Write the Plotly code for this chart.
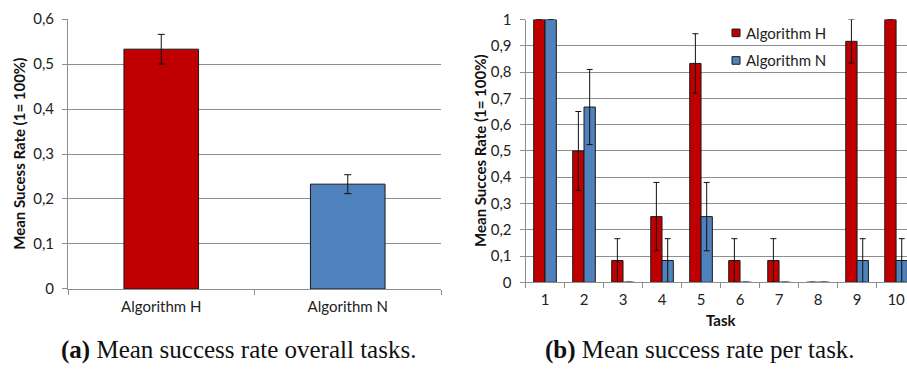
import plotly.graph_objects as go

# ---- data ----
overall_algorithms = ["Algorithm H", "Algorithm N"]
overall_mean = [0.533, 0.233]
overall_err = [0.033, 0.021]

tasks = ["1", "2", "3", "4", "5", "6", "7", "8", "9", "10"]
h_mean = [1.0, 0.5, 0.083, 0.25, 0.833, 0.083, 0.083, 0.0, 0.917, 1.0]
h_err = [0.0, 0.15, 0.083, 0.13, 0.113, 0.083, 0.083, 0.0, 0.083, 0.0]
n_mean = [1.0, 0.667, 0.0, 0.083, 0.25, 0.0, 0.0, 0.0, 0.083, 0.083]
n_err = [0.0, 0.143, 0.0, 0.083, 0.13, 0.0, 0.0, 0.0, 0.083, 0.083]

RED = "#C00000"
BLUE = "#4F81BD"
GRID = "#8E8E8E"
FONT = "Lato"
SERIF = "Liberation Serif"

W, H = 907, 376


def px_x(p):
    return p / W


def px_y(p):
    return 1 - p / H


def err_array(vals):
    # zero deviations get no whisker at all
    return [v if v > 0 else None for v in vals]


fig = go.Figure()

# (a) overall means
fig.add_trace(go.Bar(
    x=overall_algorithms, y=overall_mean, width=0.4,
    marker=dict(color=[RED, BLUE], line=dict(color="#1a1a1a", width=1)),
    error_y=dict(type="data", array=err_array(overall_err), color="#111",
                 thickness=1, width=3.5),
    xaxis="x", yaxis="y", showlegend=False, cliponaxis=False,
))

# (b) per-task means
fig.add_trace(go.Bar(
    x=tasks, y=h_mean, name="Algorithm H",
    marker=dict(color=RED, line=dict(color="#1a1a1a", width=1)),
    error_y=dict(type="data", array=err_array(h_err), color="#111",
                 thickness=1, width=3),
    xaxis="x2", yaxis="y2", showlegend=False, cliponaxis=False,
))
fig.add_trace(go.Bar(
    x=tasks, y=n_mean, name="Algorithm N",
    marker=dict(color=BLUE, line=dict(color="#1a1a1a", width=1)),
    error_y=dict(type="data", array=err_array(n_err), color="#111",
                 thickness=1, width=3),
    xaxis="x2", yaxis="y2", showlegend=False, cliponaxis=False,
))

tick_font = dict(family=FONT, size=15, color="#222")

common_x = dict(type="category", showline=True, linecolor=GRID, linewidth=1,
                ticks="outside", ticklen=5, tickcolor=GRID, tickson="boundaries",
                showgrid=False, tickfont=tick_font, ticklabelstandoff=4,
                fixedrange=True)
common_y = dict(showline=True, linecolor=GRID, linewidth=1, ticks="outside",
                ticklen=5, tickcolor=GRID, showgrid=True, gridcolor=GRID,
                gridwidth=1, zeroline=False, tickfont=tick_font, dtick=0.1,
                ticklabelstandoff=5, fixedrange=True)

fig.update_layout(
    width=W, height=H,
    margin=dict(l=0, r=0, t=0, b=0),
    paper_bgcolor="white", plot_bgcolor="white",
    separators=",.",
    barmode="group", bargap=0.42, bargroupgap=0,
    showlegend=False,
    xaxis=dict(domain=[px_x(68), px_x(441)], anchor="y", range=[-0.5, 1.5],
               **common_x),
    yaxis=dict(domain=[px_y(293), px_y(9.5)], anchor="x", range=[0, 0.6],
               **common_y),
    xaxis2=dict(domain=[px_x(525.5), 1.0], anchor="y2", range=[-0.5, 9.28],
                **common_x),
    yaxis2=dict(domain=[px_y(286), px_y(10)], anchor="x2", range=[0, 1.0],
                **common_y),
)

annotations = [
    # axis titles
    dict(text="<b>Mean Sucess Rate (1= 100%)</b>", x=px_x(19), y=px_y(151),
         textangle=-90, font=dict(family=FONT, size=15, color="#111")),
    dict(text="<b>Mean Succes Rate (1= 100%)</b>", x=px_x(480), y=px_y(148),
         textangle=-90, font=dict(family=FONT, size=15, color="#111")),
    dict(text="<b>Task</b>", x=px_x(721), y=px_y(326),
         font=dict(family=FONT, size=15, color="#111")),
    # sub-figure captions
    dict(text="<b>(a)</b> Mean success rate overall tasks.", x=px_x(238),
         y=px_y(357), font=dict(family=SERIF, size=25, color="#111")),
    dict(text="<b>(b)</b> Mean success rate per task.", x=px_x(700),
         y=px_y(357), font=dict(family=SERIF, size=25, color="#111")),
]
for a in annotations:
    a.update(xanchor="center", yanchor="middle")

# legend labels
for label, yc in [("Algorithm H", 24), ("Algorithm N", 53)]:
    annotations.append(dict(text=label, x=px_x(744), y=px_y(yc),
                            xanchor="left", yanchor="middle",
                            font=dict(family=FONT, size=15, color="#222")))

for a in annotations:
    a.update(xref="paper", yref="paper", showarrow=False)
fig.update_layout(annotations=annotations)

# legend swatches
for color, yc in [(RED, 24), (BLUE, 53)]:
    fig.add_shape(type="rect", xref="paper", yref="paper",
                  x0=px_x(732), x1=px_x(740), y0=px_y(yc + 4), y1=px_y(yc - 4),
                  fillcolor=color, line=dict(color="#1a1a1a", width=1))

fig.write_html("out.html")
